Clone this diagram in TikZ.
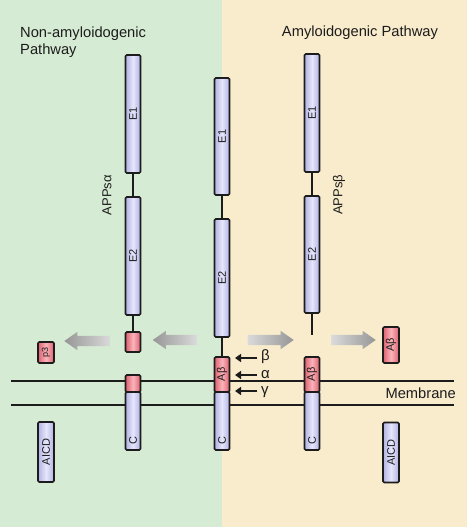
\documentclass[tikz,border=0pt]{standalone}
\usepackage{fontspec}
\setmainfont{Liberation Sans}
\usetikzlibrary{shapes.arrows,arrows.meta}
\definecolor{bggreen}{RGB}{214,235,212}
\definecolor{bgyellow}{RGB}{249,236,204}
\definecolor{barL}{RGB}{178,178,226}
\definecolor{barM}{RGB}{230,230,252}
\definecolor{redL}{RGB}{222,96,112}
\definecolor{redM}{RGB}{250,180,186}
\definecolor{ink}{RGB}{28,28,28}
\definecolor{gdark}{RGB}{150,150,150}
\definecolor{glight}{RGB}{218,218,218}
\begin{document}
\begin{tikzpicture}[x=1pt,y=-1pt,
  bar/.style={draw=ink, line width=1.6pt, rounded corners=1.2pt, minimum width=15pt, inner sep=0pt,
    left color=barL, right color=barL, middle color=barM},
  redbar/.style={bar, left color=redL, right color=redL, middle color=redM},
  lbl/.style={rotate=90, font=\fontsize{11}{11}\selectfont, text=ink, inner sep=0pt},
  conn/.style={draw=ink, line width=1.7pt},
  memb/.style={draw=ink, line width=1.6pt},
  garrow/.style={single arrow, draw=none, inner sep=5pt, minimum height=46pt,
    single arrow head extend=4pt, single arrow tip angle=70},
  cut/.style={-{Triangle[length=6pt,width=8pt]}, line width=2.4pt, draw=ink},
  title/.style={font=\fontsize{14.7}{17}\selectfont, text=ink, inner sep=0pt},
  greek/.style={font=\fontsize{15}{15}\selectfont, text=ink, inner sep=0pt}
]
\useasboundingbox (0,0) rectangle (467,527);
\fill[bggreen] (0,0) rectangle (222,527);
\fill[bgyellow] (222,0) rectangle (467,527);

% membrane
\coordinate (m1l) at (11,381); \coordinate (m1r) at (454,381);
\coordinate (m2l) at (11,405); \coordinate (m2r) at (454,405);
\draw[memb] (m1l) -- (m1r);
\draw[memb] (m2l) -- (m2r);

% column 1 (APPs alpha)
\node[bar, minimum height=118pt, label={[lbl]center:E1}] (c1e1) at (133,114) {};
\node[bar, minimum height=118pt, label={[lbl]center:E2}] (c1e2) at (133,256) {};
\node[redbar, minimum height=20pt] (c1r) at (133,342) {};
\draw[conn] (c1e1.south) -- (c1e2.north);
\draw[conn] (c1e2.south) -- (c1r.north);
\node[redbar, minimum height=17pt] (c1m) at (133,383.5) {};
\node[bar, minimum height=58pt] (c1c) at (133,421) {};
\node[lbl] (c1cl) at (133,441) {C};

% column 2 (APP)
\node[bar, minimum height=117pt, label={[lbl]center:E1}] (c2e1) at (222,136.5) {};
\node[bar, minimum height=118pt, label={[lbl]center:E2}] (c2e2) at (222,278) {};
\node[redbar, minimum height=35pt, label={[lbl]center:Aβ}] (c2ab) at (222,374.5) {};
\draw[conn] (c2e1.south) -- (c2e2.north);
\draw[conn] (c2e2.south) -- (c2ab.north);
\node[bar, minimum height=58pt] (c2c) at (222,421) {};
\node[lbl] (c2cl) at (222,441) {C};

% column 3 (APPs beta)
\node[bar, minimum height=118pt, label={[lbl]center:E1}] (c3e1) at (312,113) {};
\node[bar, minimum height=117pt, label={[lbl]center:E2}] (c3e2) at (312,254.5) {};
\coordinate (c3end) at (312,335);
\draw[conn] (c3e1.south) -- (c3e2.north);
\draw[conn] (c3e2.south) -- (c3end);
\node[redbar, minimum height=35pt, label={[lbl]center:Aβ}] (c3ab) at (312,374.5) {};
\node[bar, minimum height=58pt] (c3c) at (312,421) {};
\node[lbl] (c3cl) at (312,441) {C};

% fragments
\node[redbar, minimum width=16pt, minimum height=21pt,
  label={[lbl,font=\fontsize{9}{9}\selectfont]center:p3}] (p3) at (46,352.5) {};
\node[bar, minimum width=16pt, minimum height=60pt, label={[lbl]center:AICD}] (aicdl) at (46,452) {};
\node[redbar, minimum width=16pt, minimum height=36pt, label={[lbl]center:Aβ}] (abr) at (391,345) {};
\node[bar, minimum width=16pt, minimum height=60pt, label={[lbl]center:AICD}] (aicdr) at (391,452.5) {};

% grey arrows
\node[garrow, shape border rotate=180, left color=gdark, right color=glight] (g1) at (91,341) {};
\node[garrow, shape border rotate=180, minimum height=44pt, left color=gdark, right color=glight] (g2) at (178.5,340) {};
\node[garrow, left color=glight, right color=gdark] (g3) at (267,340) {};
\node[garrow, minimum height=44pt, left color=glight, right color=gdark] (g4) at (350,340) {};

% cleavage sites
\coordinate (bt) at (257,358); \coordinate (bh) at (235,358);
\coordinate (at) at (257,375); \coordinate (ah) at (235,375);
\coordinate (gt) at (257,391); \coordinate (gh) at (235,391);
\draw[cut] (bt) -- (bh);
\draw[cut] (at) -- (ah);
\draw[cut] (gt) -- (gh);
\node[greek, anchor=west] (lbeta) at (261,357) {β};
\node[greek, anchor=west] (lalpha) at (261,375) {α};
\node[greek, anchor=west] (lgamma) at (261,392) {γ};

% texts
\node[title, anchor=west, align=left] (tnon) at (20,42) {Non-amyloidogenic\\Pathway};
\node[title] (tamy) at (360,33) {Amyloidogenic Pathway};
\node[title, rotate=90, font=\fontsize{13}{13}\selectfont] (tsa) at (107,195) {APPsα};
\node[title, rotate=90, font=\fontsize{13}{13}\selectfont] (tsb) at (339,195) {APPsβ};
\node[title, anchor=east] (tmem) at (456,393) {Membrane};
\end{tikzpicture}
\end{document}
